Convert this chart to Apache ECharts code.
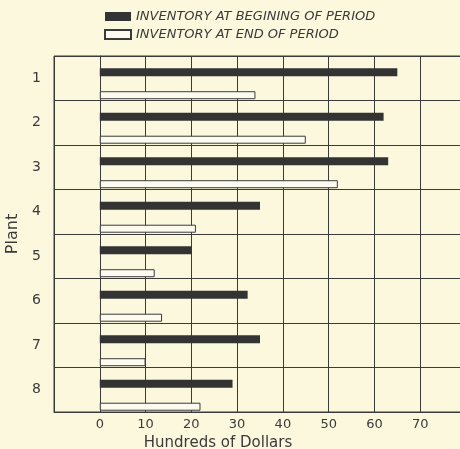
<!DOCTYPE html>
<html><head><meta charset="utf-8">
<script src="https://cdn.jsdelivr.net/npm/echarts@6/dist/echarts.min.js"></script>
<style>html,body{margin:0;padding:0;background:#fbf8de;}#c{width:460px;height:449px;}</style>
</head><body><div id="c"></div>
<script>
const plants = ['1','2','3','4','5','6','7','8'];
const beginValues = [65, 62, 63, 35, 20, 32.3, 35, 29];
const endValues = [34, 45, 52, 21, 12, 13.6, 10, 22];
const xTicks = [0, 10, 20, 30, 40, 50, 60, 70];
const seriesNames = ['INVENTORY AT BEGINING OF PERIOD', 'INVENTORY AT END OF PERIOD'];
const spacerValues = plants.map(() => 0);

const ink = '#3a3a3a';
const chart = echarts.init(document.getElementById('c'));
chart.setOption({
  backgroundColor: '#fbf8de',
  animation: false,
  legend: {
    left: 99, top: 5, orient: 'vertical', itemGap: 5,
    itemWidth: 26, itemHeight: 9, icon: 'rect',
    data: seriesNames,
    textStyle: { fontStyle: 'italic', fontSize: 13, color: ink, fontFamily: 'DejaVu Sans' }
  },
  grid: { left: 54, right: -6, top: 56, bottom: 37, show: true, borderColor: ink, borderWidth: 1,
          outerBoundsMode: 'none', containLabel: false },
  xAxis: {
    type: 'value', min: -10, max: 80, interval: 10,
    axisLine: { show: true, lineStyle: { color: ink } },
    axisTick: { show: false },
    splitLine: { show: true, lineStyle: { color: ink, width: 1 } },
    axisLabel: {
      color: ink, fontSize: 13, fontFamily: 'DejaVu Sans', margin: 6,
      formatter: v => xTicks.includes(v) ? String(v) : ''
    },
    name: 'Hundreds of Dollars', nameLocation: 'middle', nameGap: 21,
    nameTextStyle: { color: ink, fontSize: 15, fontFamily: 'DejaVu Sans', padding: [0, 84, 0, 0] }
  },
  yAxis: {
    type: 'category', data: plants, inverse: true,
    axisLine: { show: true, lineStyle: { color: ink } },
    axisTick: { show: false },
    splitLine: { show: true, lineStyle: { color: ink, width: 1 } },
    axisLabel: { color: ink, fontSize: 14, fontFamily: 'DejaVu Sans', margin: 13 },
    name: 'Plant', nameLocation: 'middle', nameGap: 33, nameRotate: 90,
    nameTextStyle: { color: ink, fontSize: 16, fontFamily: 'DejaVu Sans' }
  },
  series: [
    { name: 'spacer', type: 'bar', data: spacerValues, barWidth: 3.8, barGap: '187.5%',
      silent: true, itemStyle: { color: 'rgba(0,0,0,0)' } },
    { name: seriesNames[0], type: 'bar', data: beginValues, barWidth: 8,
      itemStyle: { color: '#333333' } },
    { name: seriesNames[1], type: 'bar', data: endValues, barWidth: 8,
      itemStyle: { color: '#fdfbef', borderColor: ink, borderWidth: 1 } }
  ]
});
</script></body></html>
